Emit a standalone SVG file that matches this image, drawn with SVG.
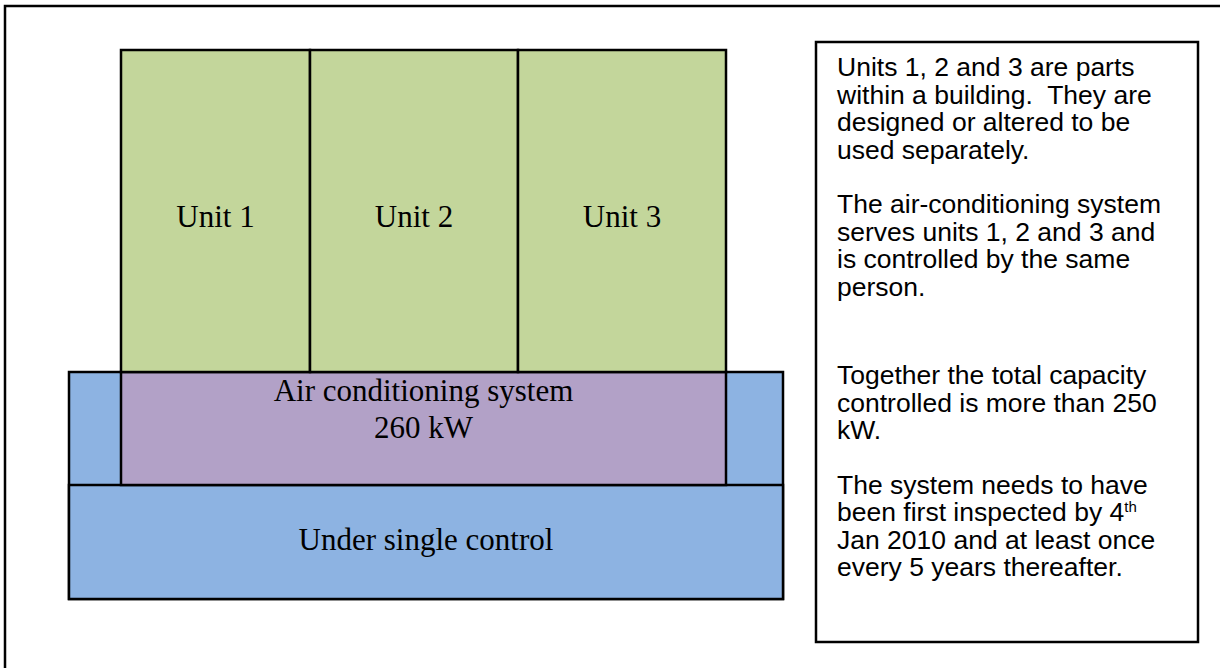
<svg xmlns="http://www.w3.org/2000/svg" width="1220" height="668" viewBox="0 0 1220 668">
  <style>
    .box { stroke: #000; stroke-width: 2.5; }
    .green { fill: #C3D69B; }
    .purple { fill: #B2A1C7; }
    .blue { fill: #8DB3E2; }
    .serif { font-family: "Liberation Serif", "Times New Roman", serif; font-size: 31px; fill: #000; text-anchor: middle; }
    .sans { font-family: "Liberation Sans", Arial, sans-serif; font-size: 26.5px; fill: #000; white-space: pre; }
  </style>
  <rect width="1220" height="668" fill="#fff"/>
  <g id="frame">
    <rect x="5" y="6" width="1400" height="900" fill="none" stroke="#000" stroke-width="2.5"/>
  </g>
  <g id="single-control">
    <rect class="box blue" x="69" y="372" width="714" height="227"/>
    <rect class="box blue" x="69" y="485" width="714" height="114"/>
    <text class="serif" x="426" y="550">Under single control</text>
  </g>
  <g id="air-conditioning">
    <rect class="box purple" x="121" y="372" width="605" height="113"/>
    <text class="serif" x="423.5" y="401">Air conditioning system</text>
    <text class="serif" x="423.5" y="438">260 kW</text>
  </g>
  <g id="unit1">
    <rect class="box green" x="121" y="50" width="189" height="322"/>
    <text class="serif" x="215.5" y="227">Unit 1</text>
  </g>
  <g id="unit2">
    <rect class="box green" x="310" y="50" width="208" height="322"/>
    <text class="serif" x="414" y="227">Unit 2</text>
  </g>
  <g id="unit3">
    <rect class="box green" x="518" y="50" width="208" height="322"/>
    <text class="serif" x="622" y="227">Unit 3</text>
  </g>
  <g id="connectors"></g>
  <g id="notes">
    <rect x="816" y="42" width="382" height="600" fill="#fff" stroke="#000" stroke-width="2.5"/>
    <text class="sans" xml:space="preserve">
      <tspan x="837" y="76">Units 1, 2 and 3 are parts</tspan>
      <tspan x="837" y="103.5">within a building.  They are</tspan>
      <tspan x="837" y="131">designed or altered to be</tspan>
      <tspan x="837" y="158.5">used separately.</tspan>
      <tspan x="837" y="213">The air-conditioning system</tspan>
      <tspan x="837" y="240.5">serves units 1, 2 and 3 and</tspan>
      <tspan x="837" y="268">is controlled by the same</tspan>
      <tspan x="837" y="295.5">person.</tspan>
      <tspan x="837" y="384">Together the total capacity</tspan>
      <tspan x="837" y="411.5">controlled is more than 250</tspan>
      <tspan x="837" y="439">kW.</tspan>
      <tspan x="837" y="493.5">The system needs to have</tspan>
      <tspan x="837" y="521">been first inspected by 4<tspan font-size="15" dy="-9">th</tspan></tspan>
      <tspan x="837" y="548.5">Jan 2010 and at least once</tspan>
      <tspan x="837" y="576">every 5 years thereafter.</tspan>
    </text>
  </g>
</svg>
